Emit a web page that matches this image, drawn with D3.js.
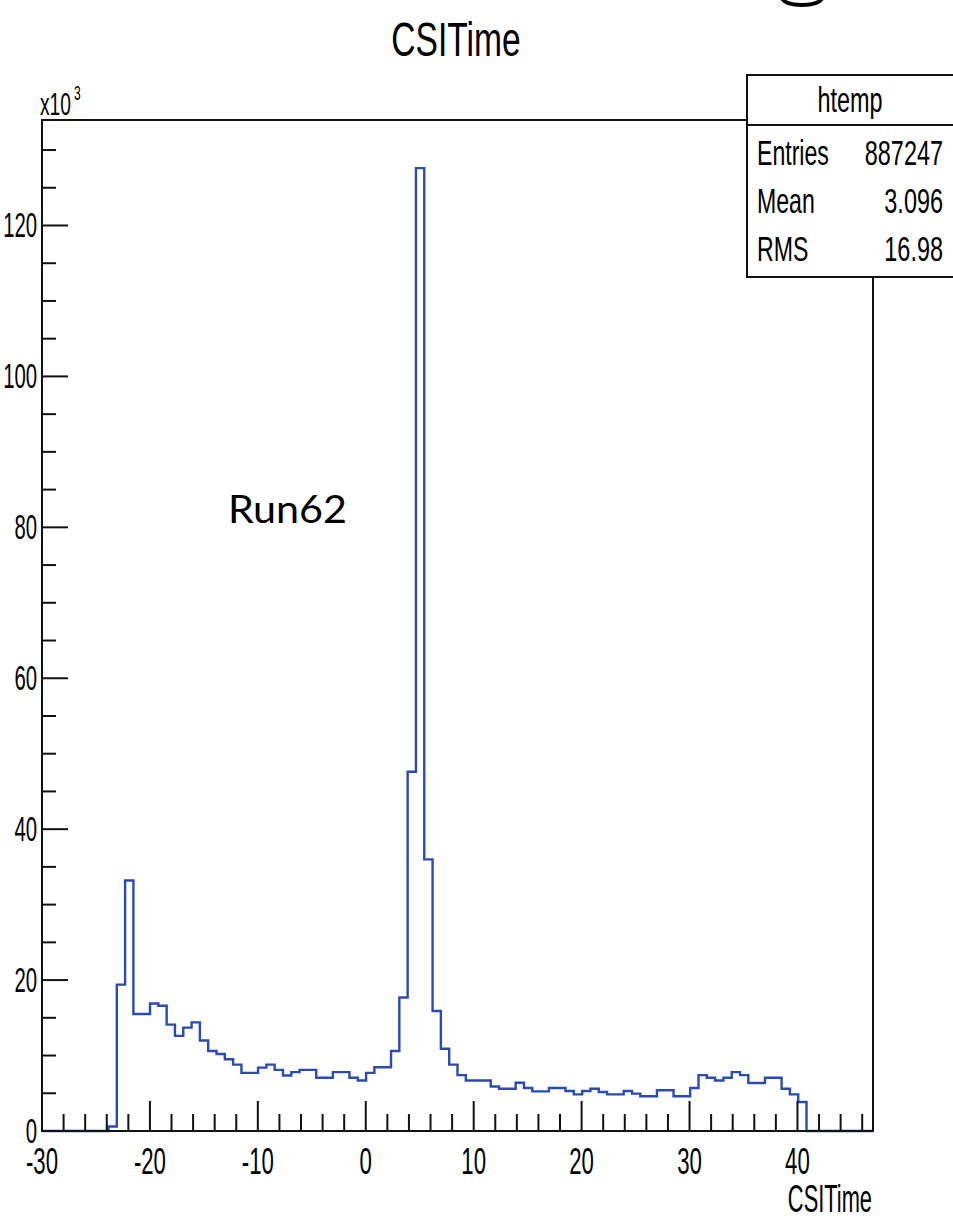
<!DOCTYPE html>
<html>
<head>
<meta charset="utf-8">
<script src="https://cdn.jsdelivr.net/npm/d3@7"></script>
<style>
  body { margin: 0; background: #fff; }
  svg { display: block; }
</style>
</head>
<body>
<div id="chart"></div>
<script>
// histogram htemp: 100 bins from -30 to 47, contents in units of 10^3
var xMin = -30, xMax = 47, nBins = 100;
var binCounts = [
  0, 0, 0, 0, 0, 0, 0, 0, 0.6, 19.4,
  33.2, 15.5, 15.5, 16.9, 16.6, 14.1, 12.6, 13.7, 14.4, 12.0,
  10.6, 10.2, 9.5, 8.8, 7.7, 7.7, 8.4, 8.8, 8.1, 7.35,
  7.8, 8.1, 8.1, 7.05, 7.05, 7.8, 7.8, 7.05, 6.7, 7.7,
  8.45, 8.45, 10.6, 17.7, 47.6, 127.6, 36.0, 15.9, 10.9, 8.8,
  7.4, 6.7, 6.7, 6.7, 5.9, 5.6, 5.6, 6.4, 5.7, 5.25,
  5.25, 5.7, 5.7, 5.3, 4.86, 5.3, 5.6, 5.17, 4.86, 4.86,
  5.3, 4.95, 4.6, 4.6, 5.4, 5.4, 4.6, 4.6, 5.7, 7.4,
  7.06, 6.7, 7.06, 7.8, 7.4, 6.36, 6.36, 7.06, 7.06, 5.6,
  4.86, 3.84, 0, 0, 0, 0, 0, 0, 0, 0
];
var xTickLabels = [-30, -20, -10, 0, 10, 20, 30, 40];
var yTickLabels = [0, 20, 40, 60, 80, 100, 120];
var statNames = ["Entries", "Mean", "RMS"];
var statValues = ["887247", "3.096", "16.98"];

var W = 953, H = 1222;
var frame = {left: 42, top: 120, right: 873, bottom: 1131};
var lineBlue = "#2a4bb0";
var font = "'Liberation Sans', Helvetica, Arial, sans-serif";

var svg = d3.select("#chart").append("svg")
  .attr("width", W)
  .attr("height", H);

svg.append("rect").attr("width", W).attr("height", H).attr("fill", "#fff");

var binW = (xMax - xMin) / nBins;
var yMax = d3.max(binCounts) * 1.05;

var x = d3.scaleLinear().domain([xMin, xMax]).range([frame.left, frame.right]);
var y = d3.scaleLinear().domain([0, yMax]).range([frame.bottom, frame.top]);

// squeezed text helper (ROOT fonts look narrow in this picture)
function label(g, str, px, py, size, anchor, sx) {
  return g.append("text")
    .attr("transform", "translate(" + px + "," + py + ") scale(" + sx + ",1)")
    .attr("text-anchor", anchor)
    .attr("font-family", font)
    .attr("font-size", size)
    .attr("fill", "#000")
    .text(str);
}

//************************************************************
// histogram outline
//************************************************************
var pts = [{x: xMin, y: 0}];
binCounts.forEach(function(v, i) { pts.push({x: xMin + i * binW, y: v}); });
pts.push({x: xMax, y: binCounts[nBins - 1]});
pts.push({x: xMax, y: 0});

var line = d3.line()
  .x(function(d) { return x(d.x); })
  .y(function(d) { return y(d.y); })
  .curve(d3.curveStepAfter);

svg.append("path")
  .datum(pts)
  .attr("d", line)
  .attr("fill", "none")
  .attr("stroke", lineBlue)
  .attr("stroke-width", 2.4);

//************************************************************
// frame and axes
//************************************************************
svg.append("rect")
  .attr("x", frame.left).attr("y", frame.top)
  .attr("width", frame.right - frame.left)
  .attr("height", frame.bottom - frame.top)
  .attr("fill", "none")
  .attr("stroke", "#111")
  .attr("stroke-width", 2);

var axes = svg.append("g").attr("stroke", "#111").attr("stroke-width", 2);

// x ticks: major every 10, minor every 2
d3.range(xMin, xMax + 0.001, 2).forEach(function(v) {
  var major = (v % 10 === 0);
  axes.append("line")
    .attr("x1", x(v)).attr("x2", x(v))
    .attr("y1", frame.bottom).attr("y2", frame.bottom - (major ? 30 : 17));
});
// y ticks: major every 20, minor every 5
d3.range(0, yMax, 5).forEach(function(v) {
  var major = (v % 20 === 0);
  axes.append("line")
    .attr("x1", frame.left).attr("x2", frame.left + (major ? 26 : 14))
    .attr("y1", y(v)).attr("y2", y(v));
});

//************************************************************
// stats box (drawn before the texts so it does not hide them)
//************************************************************
var box = {left: 747, top: 75, right: 962, bottom: 277, split: 125};
svg.append("rect")
  .attr("x", box.left).attr("y", box.top)
  .attr("width", box.right - box.left).attr("height", box.bottom - box.top)
  .attr("fill", "#fff").attr("stroke", "#111").attr("stroke-width", 2);
svg.append("line")
  .attr("x1", box.left).attr("x2", box.right)
  .attr("y1", box.split).attr("y2", box.split)
  .attr("stroke", "#111").attr("stroke-width", 2);

var txt = svg.append("g");
xTickLabels.forEach(function(v) {
  label(txt, String(v), x(v), 1174, 37, "middle", 0.6);
});
yTickLabels.forEach(function(v) {
  label(txt, String(v), 37, y(v) + 12, 35, "end", 0.58);
});

// x10^3
label(txt, "x10", 40, 115, 32, "start", 0.6);
label(txt, "3", 74, 100, 20, "start", 0.6);

// titles
label(txt, "CSITime", 456, 56, 48, "middle", 0.7);
label(txt, "CSITime", 872, 1212, 38, "end", 0.575);

label(txt, "htemp", 850, 112, 35, "middle", 0.67);
var rowY = [165, 213, 261];
statNames.forEach(function(n, i) {
  label(txt, n, 757, rowY[i], 35, "start", 0.66);
  label(txt, statValues[i], 943, rowY[i], 35, "end", 0.67);
});

// Run62 annotation
svg.append("text")
  .attr("x", 228).attr("y", 523)
  .attr("font-family", "Lato, 'Open Sans', sans-serif")
  .attr("font-size", 39)
  .attr("textLength", 119)
  .attr("lengthAdjust", "spacingAndGlyphs")
  .attr("fill", "#000")
  .text("Run62");

// cropped black mark at the top edge
svg.append("path")
  .attr("d", "M781,-4 Q783,5 802,5 Q821,5 823,-4")
  .attr("fill", "none")
  .attr("stroke", "#000")
  .attr("stroke-width", 4);
</script>
</body>
</html>
